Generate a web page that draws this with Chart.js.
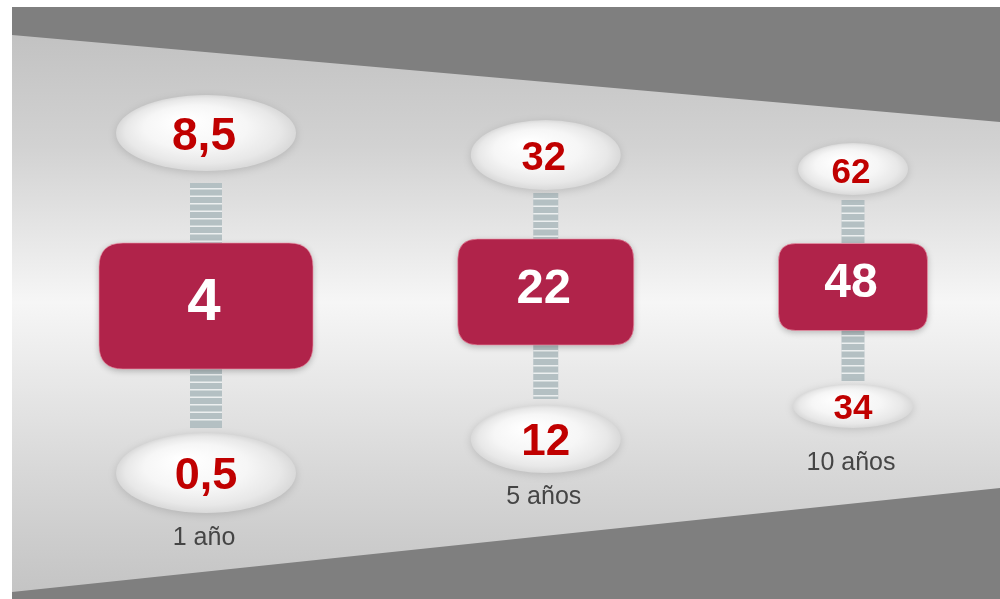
<!DOCTYPE html>
<html><head><meta charset="utf-8">
<script src="https://cdn.jsdelivr.net/npm/chart.js@4"></script>
<style>html,body{margin:0;padding:0;background:#fff;overflow:hidden}#wrap{width:1000px;height:599px;position:relative}</style>
</head><body><div id="wrap"><canvas id="c"></canvas></div>
<script>
// ---- data ----
const categories = ['1 año', '5 años', '10 años'];
const minValues = [0.5, 12, 34];
const medianValues = [4, 22, 48];
const maxValues = [8.5, 32, 62];

const fmt = v => String(v).replace('.', ',');

// ---- layout (decorative geometry per column, not data) ----
const columnLayout = [
  {rw:214, rh:126, cy:306, r:24, topY:133, topRx:90, topRy:38, botY:473, botRx:90, botRy:40, conW:32, conTop:[183,243], conBot:[369,428], labY:538, fTop:46, fMid:60, fBot:45},
  {rw:176, rh:106, cy:292, r:20, topY:155, topRx:75, topRy:35, botY:439, botRx:75, botRy:34, conW:25, conTop:[193,239], conBot:[345,399], labY:497, fTop:40, fMid:49, fBot:44},
  {rw:149, rh:87,  cy:287, r:17, topY:169, topRx:55, topRy:26, botY:406, botRx:60, botRy:22, conW:23, conTop:[200,243], conBot:[330,381], labY:463, fTop:35, fMid:48, fBot:35}
];

const FONT = '"Liberation Sans", Arial, Helvetica, sans-serif';

function roundRect(ctx, x, y, w, h, r) {
  ctx.beginPath();
  ctx.moveTo(x + r, y);
  ctx.lineTo(x + w - r, y);
  ctx.quadraticCurveTo(x + w, y, x + w, y + r);
  ctx.lineTo(x + w, y + h - r);
  ctx.quadraticCurveTo(x + w, y + h, x + w - r, y + h);
  ctx.lineTo(x + r, y + h);
  ctx.quadraticCurveTo(x, y + h, x, y + h - r);
  ctx.lineTo(x, y + r);
  ctx.quadraticCurveTo(x, y, x + r, y);
  ctx.closePath();
}

function drawEllipse(ctx, cx, cy, rx, ry) {
  ctx.save();
  ctx.shadowColor = 'rgba(0,0,0,0.14)';
  ctx.shadowBlur = 8;
  ctx.shadowOffsetY = 2;
  ctx.translate(cx, cy);
  ctx.scale(1, ry / rx);
  const g = ctx.createRadialGradient(-rx * 0.25, -rx * 0.35, rx * 0.05, 0, 0, rx);
  g.addColorStop(0, '#ffffff');
  g.addColorStop(0.55, '#f6f6f6');
  g.addColorStop(0.85, '#e8e8e8');
  g.addColorStop(1, '#d9d9d9');
  ctx.beginPath();
  ctx.arc(0, 0, rx, 0, Math.PI * 2);
  ctx.fillStyle = g;
  ctx.fill();
  ctx.restore();
}

function drawConnector(ctx, cx, y0, y1, w) {
  ctx.save();
  ctx.fillStyle = '#b4c0c3';
  ctx.fillRect(cx - w / 2, y0, w, y1 - y0);
  ctx.fillStyle = 'rgba(255,255,255,0.75)';
  for (let y = y0 + 5; y < y1 - 2; y += 7.5) {
    ctx.fillRect(cx - w / 2, y, w, 1.5);
  }
  ctx.restore();
}

function drawNumber(ctx, text, cx, cy, size, color) {
  ctx.save();
  ctx.font = 'bold ' + size + 'px ' + FONT;
  ctx.textAlign = 'center';
  ctx.textBaseline = 'alphabetic';
  ctx.fillStyle = color;
  ctx.fillText(text, cx, cy + size * 0.716 / 2);
  ctx.restore();
}

const funnelPlugin = {
  id: 'funnelBg',
  beforeDraw(chart) {
    const ctx = chart.ctx, W = chart.width, H = chart.height;
    ctx.save();
    ctx.fillStyle = '#ffffff';
    ctx.fillRect(0, 0, W, H);
    ctx.fillStyle = '#7f7f7f';
    ctx.fillRect(12, 7, W - 12, H - 7);
    const g = ctx.createLinearGradient(0, 35, 0, 592);
    g.addColorStop(0, '#c2c2c2');
    g.addColorStop(0.2, '#d2d2d2');
    g.addColorStop(0.48, '#f6f6f6');
    g.addColorStop(0.78, '#d8d8d8');
    g.addColorStop(1, '#c4c4c4');
    ctx.beginPath();
    ctx.moveTo(12, 35);
    ctx.lineTo(W, 122);
    ctx.lineTo(W, 488);
    ctx.lineTo(12, 592);
    ctx.closePath();
    ctx.fillStyle = g;
    ctx.fill();
    ctx.restore();
  }
};

const infographicPlugin = {
  id: 'rangeInfographic',
  afterDatasetsDraw(chart) {
    const ctx = chart.ctx;
    const xs = chart.scales.x;
    const n = categories.length;
    // first and last columns anchored by the category scale, middle placed with equal gaps
    const centers = [];
    const c0 = xs.getPixelForValue(0), cN = xs.getPixelForValue(n - 1);
    const L = columnLayout;
    let inner = 0;
    for (let i = 1; i < n - 1; i++) inner += L[i].rw;
    const gap = ((cN - L[n - 1].rw / 2) - (c0 + L[0].rw / 2) - inner) / (n - 1);
    let edge = c0 + L[0].rw / 2;
    centers.push(c0);
    for (let i = 1; i < n - 1; i++) {
      edge += gap;
      centers.push(edge + L[i].rw / 2);
      edge += L[i].rw;
    }
    centers.push(cN);

    for (let i = 0; i < n; i++) {
      const cx = centers[i], c = L[i];
      drawConnector(ctx, cx, c.conTop[0], c.conTop[1], c.conW);
      drawConnector(ctx, cx, c.conBot[0], c.conBot[1], c.conW);
      drawEllipse(ctx, cx, c.topY, c.topRx, c.topRy);
      drawEllipse(ctx, cx, c.botY, c.botRx, c.botRy);

      ctx.save();
      ctx.shadowColor = 'rgba(0,0,0,0.25)';
      ctx.shadowBlur = 6;
      ctx.shadowOffsetY = 2;
      roundRect(ctx, cx - c.rw / 2, c.cy - c.rh / 2, c.rw, c.rh, c.r);
      ctx.fillStyle = '#b0234a';
      ctx.fill();
      ctx.restore();
      ctx.save();
      roundRect(ctx, cx - c.rw / 2, c.cy - c.rh / 2, c.rw, c.rh, c.r);
      ctx.strokeStyle = 'rgba(240,150,170,0.6)';
      ctx.lineWidth = 1;
      ctx.stroke();
      ctx.restore();

      drawNumber(ctx, fmt(maxValues[i]), cx - 2, c.topY + 1, c.fTop, '#c00000');
      drawNumber(ctx, fmt(medianValues[i]), cx - 2, c.cy - 7, c.fMid, '#ffffff');
      drawNumber(ctx, fmt(minValues[i]), cx, c.botY, c.fBot, '#c00000');

      ctx.save();
      ctx.font = '25px ' + FONT;
      ctx.textAlign = 'center';
      ctx.textBaseline = 'middle';
      ctx.fillStyle = '#454545';
      ctx.fillText(categories[i], cx - 2, c.labY);
      ctx.restore();
    }
  }
};

new Chart(document.getElementById('c'), {
  type: 'line',
  data: {
    labels: categories,
    datasets: [
      {label: 'Máximo', data: maxValues, showLine: false, pointRadius: 0},
      {label: 'Mediana', data: medianValues, showLine: false, pointRadius: 0},
      {label: 'Mínimo', data: minValues, showLine: false, pointRadius: 0}
    ]
  },
  options: {
    responsive: true,
    maintainAspectRatio: false,
    animation: false,
    events: [],
    layout: {padding: {left: 206, right: 147, top: 0, bottom: 0}},
    plugins: {legend: {display: false}, tooltip: {enabled: false}, title: {display: false}},
    scales: {
      x: {type: 'category', offset: false, display: false},
      y: {display: false, min: 0, max: 70}
    }
  },
  plugins: [funnelPlugin, infographicPlugin]
});
</script>
</body></html>
